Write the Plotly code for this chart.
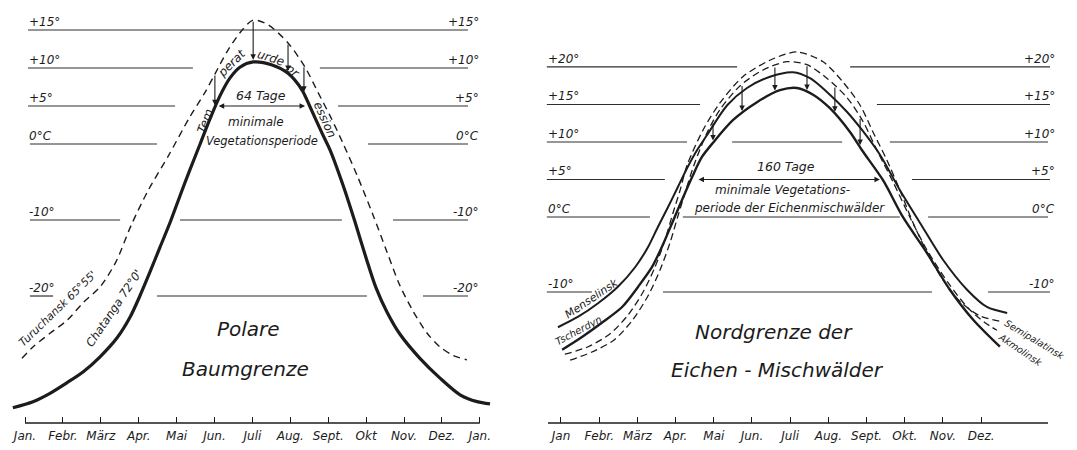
import numpy as np
import plotly.graph_objects as go

# ---------------- data (month index: 0 = 1 Jan, 12 = next 1 Jan; temperature in °C) ----------------
months_left = ["Jan.", "Febr.", "März", "Apr.", "Mai", "Jun.", "Juli", "Aug.", "Sept.", "Okt", "Nov.", "Dez.", "Jan."]
months_right = ["Jan", "Febr.", "März", "Apr.", "Mai", "Jun.", "Juli", "Aug.", "Sept.", "Okt.", "Nov.", "Dez."]

levels_left = [15, 10, 5, 0, -10, -20]
labels_left = ["+15°", "+10°", "+5°", "0°C", "-10°", "-20°"]
levels_right = [20, 15, 10, 5, 0, -10]
labels_right = ["+20°", "+15°", "+10°", "+5°", "0°C", "-10°"]

chatanga_month = [-0.32, 0.21, 0.66, 1.11, 1.53, 1.98, 2.43, 2.77, 3.03, 3.30, 3.56, 3.83, 4.09, 4.35,
                  4.62, 4.88, 5.15, 5.41, 5.67, 6.02, 6.52, 6.94, 7.31, 7.52, 7.84, 8.05, 8.39, 8.71,
                  9.00, 9.26, 9.55, 9.89, 10.42, 10.95, 11.48, 11.93, 12.27]
chatanga_temp = [-34.7, -33.9, -32.8, -31.4, -30.0, -28.0, -25.5, -22.8, -20.0, -16.8, -13.6, -10.3, -6.8, -3.4,
                 0.0, 3.3, 6.4, 8.7, 10.1, 10.8, 10.4, 9.3, 7.1, 4.9, 1.4, -0.8, -5.4, -10.3,
                 -15.0, -18.9, -22.1, -25.0, -28.2, -30.8, -33.0, -33.9, -34.2]

turuchansk_month = [-0.08, 0.21, 0.66, 1.11, 1.53, 1.98, 2.40, 2.80, 3.25, 3.80, 4.33, 4.75, 5.01, 5.36,
                    5.73, 6.02, 6.41, 6.94, 7.39, 7.73, 8.05, 8.39, 8.76, 9.18, 9.55, 9.89, 10.24,
                    10.61, 10.95, 11.29, 11.66]
turuchansk_temp = [-28.2, -26.7, -24.9, -23.2, -20.9, -18.8, -15.5, -10.7, -6.1, -1.4, 3.4, 6.8, 9.2, 12.4,
                   15.0, 16.3, 15.7, 13.3, 10.1, 6.8, 3.7, 0.1, -4.1, -9.3, -14.2, -18.6, -22.0,
                   -24.9, -26.7, -27.8, -28.4]

menselinsk_month = [-0.08, 0.45, 0.97, 1.49, 1.94, 2.28, 2.54, 2.80, 3.06, 3.32, 3.56, 3.82, 4.35, 4.87,
                    5.47, 6.07, 6.52, 7.04, 7.49, 7.88, 8.35, 8.87, 9.40, 10.00, 10.63, 11.15, 11.68]
menselinsk_temp = [-14.7, -13.3, -11.5, -9.3, -6.7, -4.0, -1.3, 1.3, 4.0, 6.7, 8.9, 10.9, 14.9, 17.2,
                   18.7, 19.3, 18.5, 16.3, 14.0, 11.6, 8.3, 3.6, -0.8, -5.7, -9.7, -12.0, -12.8]

tscherdyn_month = [0.03, 0.55, 1.07, 1.60, 2.02, 2.38, 2.64, 2.91, 3.17, 3.43, 3.69, 3.98, 4.50, 5.13,
                   5.73, 6.18, 6.60, 7.04, 7.57, 7.88, 8.43, 8.95, 9.58, 10.18, 10.79, 11.49]
tscherdyn_temp = [-17.7, -16.0, -14.1, -12.0, -9.3, -6.7, -4.0, -0.8, 2.3, 5.3, 8.0, 9.9, 12.9, 15.3,
                  16.9, 17.2, 16.3, 14.5, 11.3, 8.9, 4.9, 0.0, -4.8, -9.7, -13.7, -17.3]

semipalatinsk_month = [0.10, 0.71, 1.28, 1.75, 2.15, 2.46, 2.72, 2.93, 3.12, 3.30, 3.72, 4.16, 4.76, 5.47,
                       6.18, 6.86, 7.38, 7.83, 8.17, 8.53, 8.87, 9.21, 9.58, 10.00, 10.45, 10.97, 11.49]
semipalatinsk_temp = [-18.3, -17.3, -15.6, -13.1, -10.0, -6.7, -3.1, 0.5, 3.6, 6.9, 11.6, 15.2, 18.7, 20.9,
                      22.0, 20.7, 18.0, 14.9, 11.3, 7.6, 3.6, -0.7, -4.7, -8.4, -11.3, -13.2, -13.9]

akmolinsk_month = [0.24, 0.81, 1.39, 1.88, 2.28, 2.59, 2.85, 3.06, 3.27, 3.48, 3.82, 4.16, 4.69, 5.29,
                   5.92, 6.44, 6.96, 7.49, 7.91, 8.27, 8.69, 9.14, 9.58, 10.18, 10.65, 11.10, 11.41]
akmolinsk_temp = [-19.1, -18.0, -16.4, -13.7, -10.5, -7.1, -3.5, 0.1, 3.6, 6.9, 11.2, 14.3, 17.5, 19.6,
                  20.7, 20.3, 18.5, 15.9, 12.7, 8.9, 4.7, -0.1, -4.4, -9.1, -12.1, -14.1, -15.1]

# minimal vegetation periods (month index at the +5° crossings)
veg_left = [5.07, 7.39]      # 64 Tage
veg_right = [3.56, 8.35]     # 160 Tage
depr_left_months = [5.01, 6.02, 6.94, 7.36]
depr_right_months = [3.98, 4.74, 5.60, 6.44, 7.17, 7.83]

# ---------------- styling ----------------
INK = "#1c1c1c"
GRID = "#2e2e2e"
FONT = "DejaVu Sans"
W, H = 1077, 450


def tfont(size):
    return dict(family=FONT, size=size, color=INK, style="italic")


fig = go.Figure()


def curve(xs, ys, ax, width, dash=None):
    fig.add_trace(go.Scatter(
        x=xs, y=ys, mode="lines", xaxis=ax[0], yaxis=ax[1], hoverinfo="skip",
        line=dict(color=INK, width=width, shape="spline", smoothing=0.8, dash=dash)))


LA = ("x", "y")
RA = ("x2", "y2")
curve(turuchansk_month, turuchansk_temp, LA, 1.4, "7px,5px")
curve(chatanga_month, chatanga_temp, LA, 3.2)
curve(semipalatinsk_month, semipalatinsk_temp, RA, 1.3, "7px,4px")
curve(akmolinsk_month, akmolinsk_temp, RA, 1.3, "7px,4px")
curve(menselinsk_month, menselinsk_temp, RA, 2.0)
curve(tscherdyn_month, tscherdyn_temp, RA, 2.4)

# ---------------- broken horizontal guide lines (month extents) ----------------
seg_left = {
    15: [(0.08, 11.69)],
    10: [(0.08, 4.43), (7.78, 11.69)],
    5: [(0.08, 3.96), (8.26, 11.69)],
    0: [(0.13, 3.48), (9.05, 11.69)],
    -10: [(0.13, 2.51), (4.09, 8.36), (9.71, 11.69)],
    -20: [(0.13, 0.74), (3.48, 9.02), (10.50, 11.69)],
}
seg_right = {
    20: [(-0.37, 4.61), (7.57, 12.8)],
    15: [(-0.37, 3.64), (8.27, 12.8)],
    10: [(-0.37, 3.30), (4.48, 7.36), (8.61, 12.75)],
    5: [(-0.37, 2.72), (9.19, 12.8)],
    0: [(-0.37, 2.33), (3.19, 8.87), (9.61, 12.75)],
    -10: [(-0.37, 0.81), (2.67, 9.71), (11.18, 12.8)],
}

shapes = []
for segs, xr, yr in ((seg_left, "x", "y"), (seg_right, "x2", "y2")):
    for lev, parts in segs.items():
        for a, b in parts:
            shapes.append(dict(type="line", xref=xr, yref=yr, x0=a, x1=b, y0=lev, y1=lev,
                               line=dict(color=GRID, width=1.2)))
# baselines of the month axes
shapes.append(dict(type="line", xref="x", yref="y domain", x0=0, x1=12, y0=0, y1=0,
                   line=dict(color=INK, width=1.5)))
shapes.append(dict(type="line", xref="x2", yref="y2 domain", x0=-0.34, x1=12.75, y0=0, y1=0,
                   line=dict(color=INK, width=1.5)))

ann = []


def text(x, y, s, xr, yr, size=12, angle=0, xanchor="center", yshift=0):
    ann.append(dict(x=x, y=y, xref=xr, yref=yr, text=s, showarrow=False, textangle=angle,
                    font=tfont(size), xanchor=xanchor, yanchor="middle", yshift=yshift))


def arrow(x, y, axv, ayv, xr, yr, both=False):
    d = dict(x=x, y=y, ax=axv, ay=ayv, xref=xr, yref=yr, axref=xr, ayref=yr, text="",
             showarrow=True, arrowhead=2, arrowsize=1, arrowwidth=1.1, arrowcolor=INK,
             standoff=0, startstandoff=0)
    if both:
        d["arrowside"] = "end+start"
        d["startarrowhead"] = 2
    ann.append(d)


# level labels
for lev, lab in zip(levels_left, labels_left):
    text(0.05, lev, lab, "x", "y", 12, xanchor="left", yshift=8)
    text(12.02, lev, lab, "x", "y", 12, xanchor="right", yshift=8)
for lev, lab in zip(levels_right, labels_right):
    text(-0.40, lev, lab, "x2", "y2", 12, xanchor="left", yshift=8)
    text(12.98, lev, lab, "x2", "y2", 12, xanchor="right", yshift=8)

# left panel annotations
arrow(veg_left[1], 5, veg_left[0], 5, "x", "y", both=True)
text(6.23, 6.4, "64 Tage", "x", "y", 12.5)
text(6.09, 2.9, "minimale", "x", "y", 12)
text(6.25, 0.4, "Vegetationsperiode", "x", "y", 11.5)
for m in depr_left_months:
    hi = float(np.interp(m, turuchansk_month, turuchansk_temp))
    lo = float(np.interp(m, chatanga_month, chatanga_temp))
    arrow(m, lo + 0.3, m, hi, "x", "y")
text(4.76, 3.0, "Tem", "x", "y", 12, angle=-70)
text(5.46, 10.6, "perat", "x", "y", 12, angle=-45)
text(6.49, 11.3, "urde", "x", "y", 12, angle=18)
text(7.07, 9.6, "pr", "x", "y", 12, angle=40)
text(7.92, 3.2, "ession", "x", "y", 12, angle=66)
text(2.35, -21.6, "Chatanga 72°0'", "x", "y", 11.5, angle=-56)
text(0.87, -21.6, "Turuchansk 65°55'", "x", "y", 11, angle=-44)
text(5.91, -24.3, "Polare", "x", "y", 20)
text(5.83, -29.6, "Baumgrenze", "x", "y", 20)

# right panel annotations
arrow(veg_right[1], 5, veg_right[0], 5, "x2", "y2", both=True)
text(5.89, 6.7, "160 Tage", "x2", "y2", 12.5)
text(5.81, 3.6, "minimale Vegetations-", "x2", "y2", 12)
text(5.99, 1.2, "periode der Eichenmischwälder", "x2", "y2", 12)
for m in depr_right_months:
    hi = float(np.interp(m, akmolinsk_month, akmolinsk_temp))
    lo = float(np.interp(m, tscherdyn_month, tscherdyn_temp))
    arrow(m, lo + 0.3, m, hi, "x2", "y2")
text(0.81, -10.9, "Menselinsk", "x2", "y2", 11, angle=-34)
text(0.45, -15.1, "Tscherdyn", "x2", "y2", 10, angle=-28)
text(12.40, -16.3, "Semipalatinsk", "x2", "y2", 9.5, angle=31)
text(12.02, -17.7, "Akmolinsk", "x2", "y2", 9.5, angle=34)
text(5.58, -15.3, "Nordgrenze der", "x2", "y2", 20)
text(5.66, -20.4, "Eichen - Mischwälder", "x2", "y2", 20)

bottom = 27 / H
fig.update_layout(
    width=W, height=H, margin=dict(l=0, r=0, t=0, b=0),
    paper_bgcolor="white", plot_bgcolor="white", showlegend=False,
    shapes=shapes, annotations=ann,
    xaxis=dict(domain=[0, 505 / W], range=[-0.66, 12.665], tickvals=list(range(13)),
               ticktext=months_left, ticks="inside", ticklen=6, tickwidth=1.2, tickcolor=INK,
               showgrid=False, zeroline=False, showline=False, tickfont=tfont(12), anchor="y",
               ticklabelstandoff=4, fixedrange=True),
    yaxis=dict(domain=[bottom, 1], range=[-36.71, 18.95], visible=False, fixedrange=True),
    xaxis2=dict(domain=[525 / W, 1], range=[-0.942, 13.508], tickvals=list(range(12)),
                ticktext=months_right, ticks="inside", ticklen=6, tickwidth=1.2, tickcolor=INK,
                showgrid=False, zeroline=False, showline=False, tickfont=tfont(12), anchor="y2",
                ticklabelstandoff=4, fixedrange=True),
    yaxis2=dict(domain=[bottom, 1], range=[-27.47, 28.93], visible=False, anchor="x2",
                fixedrange=True),
)

fig.write_html("out.html", config={"displayModeBar": False},
               post_script="document.body.style.margin='0';")
